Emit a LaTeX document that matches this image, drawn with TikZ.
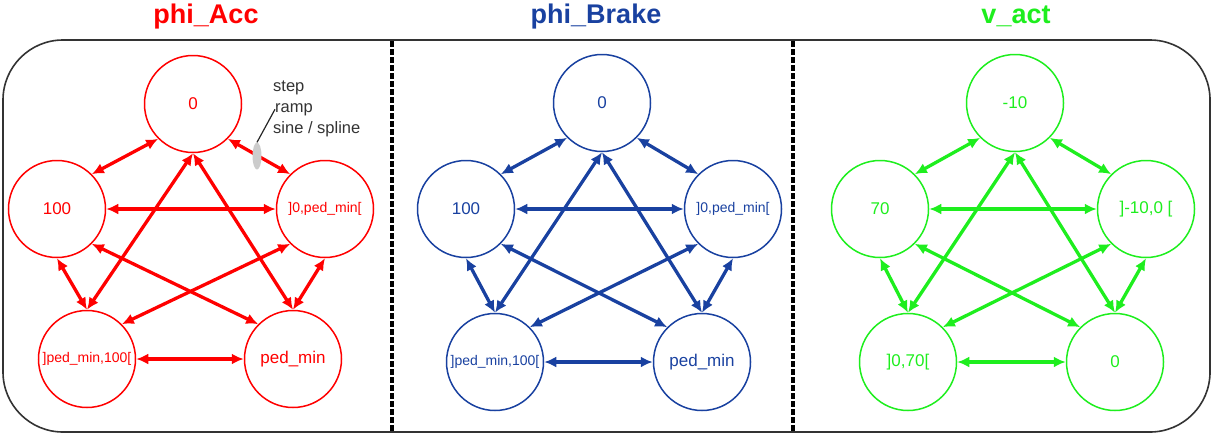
\documentclass[tikz,border=0pt]{standalone}
\usepackage{fontspec}
\setmainfont{Liberation Sans}
\usetikzlibrary{arrows.meta,shapes.geometric}
\definecolor{cred}{RGB}{255,0,0}
\definecolor{cblue}{RGB}{25,65,160}
\definecolor{cgreen}{RGB}{30,238,30}
\tikzset{
  st/.style={circle, draw=#1, text=#1, line width=1.5pt, minimum size=97pt, inner sep=0pt, font=\fontsize{17}{20}\selectfont},
  arr/.style={draw=#1, line width=3.3pt, {Latex[length=12pt,width=11pt]}-{Latex[length=12pt,width=11pt]}},
  ttl/.style={text=#1, font=\fontsize{27}{30}\selectfont\bfseries, anchor=base, inner sep=0pt},
  note/.style={font=\fontsize{16.5}{20}\selectfont, text=black!80, anchor=base west, inner sep=0pt},
  sep/.style={line width=3.4pt, dash pattern=on 5.5pt off 2.5pt},
}
\newcommand\pentaedges[2]{%
  \draw[arr=#2] (#1T.225) -- (#1L.45);
  \draw[arr=#2] (#1T.315) -- (#1R.135);
  \draw[arr=#2] (#1L.east) -- (#1R.west);
  \draw[arr=#2] (#1L.south) -- (#1BL.north);
  \draw[arr=#2] (#1R.south) -- (#1BR.north);
  \draw[arr=#2] (#1BL.east) -- (#1BR.west);
  \draw[arr=#2] (#1T.south) -- (#1BL.north);
  \draw[arr=#2] (#1T.south) -- (#1BR.north);
  \draw[arr=#2] (#1L.315) -- (#1BR.135);
  \draw[arr=#2] (#1R.225) -- (#1BL.45);
}
\begin{document}
\begin{tikzpicture}[x=1pt,y=-1pt]
\useasboundingbox (0,0) rectangle (1214,434);
% frame
\draw[line width=1.6pt, black!80, rounded corners=60pt] (3,40) rectangle (1210,432);
\draw[sep] (392,41) -- (392,431);
\draw[sep] (793,41) -- (793,431);
% titles
\node[ttl=cred] (t1) at (206,23) {phi\_Acc};
\node[ttl=cblue] (t2) at (596,23) {phi\_Brake};
\node[ttl=cgreen] (t3) at (1016,23) {v\_act};
% panel 1
\node[st=cred] (aT) at (193,104) {0};
\node[st=cred] (aL) at (57,209) {100};
\node[st=cred] (aR) at (325,209) {\fontsize{14}{16}\selectfont ]0,ped\_min[};
\node[st=cred] (aBL) at (87,359) {\fontsize{14}{16}\selectfont ]ped\_min,100[};
\node[st=cred] (aBR) at (293,359) {ped\_min};
\pentaedges{a}{cred}
% annotation
\node[ellipse, fill=black!20, minimum width=9pt, minimum height=27pt, inner sep=0pt] (sel) at (257,156) {};
\node[note] (nstep) at (273,91) {step};
\node[note] (nramp) at (275,112) {ramp};
\node[note] (nsine) at (273,133) {sine / spline};
\draw[line width=1.2pt, black!85] (sel.north) -- (nramp.west);
% panel 2
\node[st=cblue] (bT) at (602,103) {0};
\node[st=cblue] (bL) at (466,209) {100};
\node[st=cblue] (bR) at (733,209) {\fontsize{14}{16}\selectfont ]0,ped\_min[};
\node[st=cblue] (bBL) at (495,362) {\fontsize{14}{16}\selectfont ]ped\_min,100[};
\node[st=cblue] (bBR) at (702,362) {ped\_min};
\pentaedges{b}{cblue}
% panel 3
\node[st=cgreen] (cT) at (1015,103) {-10};
\node[st=cgreen] (cL) at (880,209) {70};
\node[st=cgreen] (cR) at (1146,209) {]-10,0 [};
\node[st=cgreen] (cBL) at (908,362) {]0,70[};
\node[st=cgreen] (cBR) at (1115,362) {0};
\pentaedges{c}{cgreen}
\end{tikzpicture}
\end{document}
